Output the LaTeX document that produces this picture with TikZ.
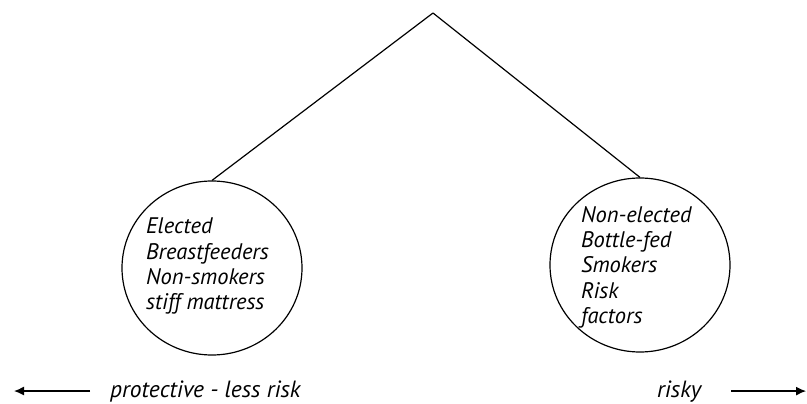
\documentclass[tikz,border=0pt]{standalone}
\usepackage{fontspec}
\setmainfont{PT Sans}
\usetikzlibrary{shapes.geometric,arrows.meta}
\begin{document}
\begin{tikzpicture}[
    x=1pt, y=-1pt,
    group/.style={ellipse, draw=black, line width=1.2pt, minimum width=180pt,
                  minimum height=174pt, inner sep=0pt},
    members/.style={anchor=north west, align=left, inner sep=0pt,
                    font=\fontsize{22.5}{25.3}\selectfont\itshape},
    branch/.style={line width=1.2pt, black},
    arr/.style={-{Latex[length=10pt,width=9pt]}, line width=1.2pt},
    scalelabel/.style={anchor=base west, inner sep=0pt,
                       font=\fontsize{23.5}{26}\selectfont\itshape},
]
\useasboundingbox (0,0) rectangle (807,404);
% root and the two groups below it
\coordinate (root) at (433,13);
\node[group] (lo) at (212,268) {};
\node[group] (hi) at (640,265) {};
\draw[branch] (root) -- (lo.north);
\draw[branch] (root) -- (hi.north);

\node[members] (loText) at (146,218) {Elected\\Breastfeeders\\Non-smokers\\stiff mattress};
\node[members] (hiText) at (581,206) {Non-elected\\Bottle-fed\\Smokers\\Risk\\factors};

% risk scale along the bottom
\node[scalelabel] (less) at (110,397) {protective - less risk};
\node[scalelabel] (more) at (657,397) {risky};
\coordinate (leftEnd) at (14,392);
\coordinate (rightEnd) at (806,390);
\draw[arr] ([xshift=-20pt]less.west) -- (leftEnd |- less.west);
\draw[arr] ([xshift=30pt]more.east) -- (rightEnd |- more.east);
\end{tikzpicture}
\end{document}
